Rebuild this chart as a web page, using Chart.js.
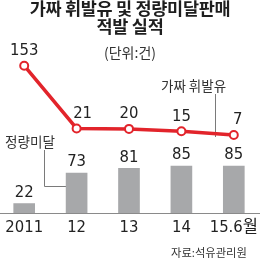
<!DOCTYPE html>
<html>
<head>
<meta charset="utf-8">
<script src="https://cdn.jsdelivr.net/npm/chart.js@4/dist/chart.umd.min.js"></script>
<style>
  html, body { margin:0; padding:0; background:#fff; }
  #wrap { position:relative; width:260px; height:259px; overflow:hidden; background:#fff; }
  #c { position:absolute; left:-2px; top:0; }
  .t { position:absolute; white-space:nowrap; font-family:"Noto Sans CJK KR", sans-serif; }
  #title { left:0; width:260px; top:-1.5px; text-align:center; font-weight:700; font-size:17.5px; line-height:18px; color:#1e1e1e; letter-spacing:-0.3px; }
  #unit { left:0; width:260px; top:43px; text-align:center; font-size:14px; line-height:18px; color:#333; }
  #lab1 { left:161px; top:76px; font-size:13.5px; line-height:18px; color:#333; }
  #lab2 { left:5px; top:132px; font-size:13.6px; line-height:18px; color:#333; }
  #src { left:171px; top:243px; font-size:11.3px; line-height:18px; color:#333; }
</style>
</head>
<body>
<div id="wrap">
  <canvas id="c" width="262" height="259"></canvas>
  <div class="t" id="title">가짜 휘발유 및 정량미달판매<br>적발 실적</div>
  <div class="t" id="unit">(단위:건)</div>
  <div class="t" id="lab1">가짜 휘발유</div>
  <div class="t" id="lab2">정량미달</div>
  <div class="t" id="src">자료:석유관리원</div>
</div>
<script>
// ---- data ----
const categories = ['2011', '12', '13', '14', '15.6월'];
const fakeGasoline = [153, 21, 20, 15, 7];      // 가짜 휘발유 (line)
const shortMeasure = [22, 73, 81, 85, 85];      // 정량미달 (bars)

// ---- style ----
const RED = '#e2242b';
const GRAY = '#a7a8aa';
const NUM_FONT = '"DejaVu Sans Condensed", "Noto Sans CJK KR", sans-serif';
const lineLabelDx = [0, 6, 0, 0, 4];

const labelPlugin = {
  id: 'valueLabels',
  beforeDatasetsDraw(chart) {
    const ctx = chart.ctx;
    const x = chart.scales.x;
    ctx.save();
    ctx.strokeStyle = '#7a7a7a';
    ctx.lineWidth = 1;
    // leader for 가짜 휘발유
    const lx = Math.round(x.getPixelForValue(3.65)) + 0.5;
    ctx.beginPath();
    ctx.moveTo(lx, 94);
    ctx.lineTo(lx, 137);
    ctx.stroke();
    // leader for 정량미달
    const bx = Math.round(x.getPixelForValue(0.37)) + 0.5;
    const bx2 = x.getPixelForValue(0.85);
    ctx.beginPath();
    ctx.moveTo(bx, 150);
    ctx.lineTo(bx, 186.5);
    ctx.lineTo(bx2, 186.5);
    ctx.stroke();
    ctx.restore();
  },
  afterDatasetsDraw(chart) {
    const ctx = chart.ctx;
    ctx.save();
    ctx.font = '16.5px ' + NUM_FONT;
    ctx.fillStyle = '#222';
    ctx.textAlign = 'center';
    ctx.textBaseline = 'middle';
    chart.data.datasets.forEach((ds, di) => {
      const meta = chart.getDatasetMeta(di);
      meta.data.forEach((el, i) => {
        const v = ds.data[i];
        if (ds.type === 'line') {
          ctx.fillText(String(v), el.x + lineLabelDx[i], el.y - 15);
        } else {
          ctx.fillText(String(v), el.x, el.y - 11);
        }
      });
    });
    ctx.restore();
  }
};

new Chart(document.getElementById('c'), {
  data: {
    labels: categories,
    datasets: [
      {
        type: 'line',
        label: '가짜 휘발유',
        data: fakeGasoline,
        yAxisID: 'y2',
        order: 0,
        borderColor: RED,
        borderWidth: 3.5,
        tension: 0,
        pointRadius: 4,
        pointBorderWidth: 2,
        pointBackgroundColor: '#fff',
        pointBorderColor: RED
      },
      {
        type: 'bar',
        label: '정량미달',
        data: shortMeasure,
        yAxisID: 'y',
        order: 1,
        backgroundColor: GRAY,
        barThickness: 21
      }
    ]
  },
  options: {
    responsive: false,
    animation: false,
    devicePixelRatio: 1,
    layout: { autoPadding: false, padding: { top: 40, bottom: 17.2, left: 0, right: 0 } },
    plugins: { legend: { display: false }, tooltip: { enabled: false }, title: { display: false } },
    scales: {
      x: {
        offset: true,
        grid: { display: false, drawTicks: false },
        border: { display: true, color: '#8a8a8a', width: 1 },
        ticks: { color: '#222', padding: 4.5, maxRotation: 0, autoSkip: false, font: { family: NUM_FONT, size: 16.5 } },
        afterFit(scale) { scale.paddingLeft = 0; scale.paddingRight = 0; }
      },
      y: { display: false, min: 6.2, max: 296 },
      y2: { display: false, min: -157.1, max: 207.2 }
    }
  },
  plugins: [labelPlugin]
});
</script>
</body>
</html>
